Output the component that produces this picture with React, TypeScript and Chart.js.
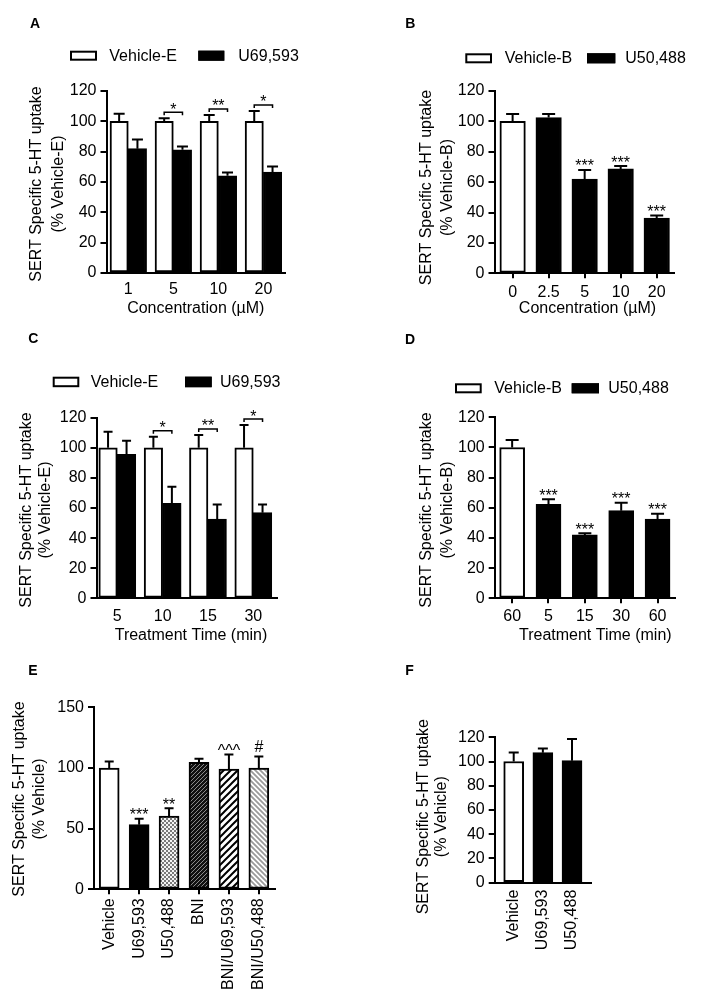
import React, { useEffect, useRef } from 'react';
import { Chart, registerables } from 'chart.js';

Chart.register(...registerables);

const FONT = '"Liberation Sans", Arial, Helvetica, sans-serif';
const PAGE_W = 704;
const PAGE_H = 1007;

// ---------- Panel A ----------
const catsA = ['1', '5', '10', '20'];
const vehicleEA = [100, 100, 100, 100];
const vehicleEAErr = [5, 2, 4.2, 6.8];
const u69593A = [82, 81.2, 64.1, 66.5];
const u69593AErr = [6, 2.2, 2.2, 3.7];
const sigA = ['', '*', '**', '*'];

// ---------- Panel B ----------
const catsB = ['0', '2.5', '5', '10', '20'];
const vehicleBB = [100, null, null, null, null];
const vehicleBBErr = [4.8, null, null, null, null];
const u50488B = [null, 102.5, 62.1, 68.7, 36.4];
const u50488BErr = [null, 2.4, 5.9, 1.9, 1.6];
const sigB = ['', '', '***', '***', '***'];

// ---------- Panel C ----------
const catsC = ['5', '10', '15', '30'];
const vehicleEC = [100, 100, 100, 100];
const vehicleECErr = [10.7, 7.4, 8.5, 15.1];
const u69593C = [95.6, 63.1, 52.7, 56.9];
const u69593CErr = [9.1, 11.1, 9.7, 5.5];
const sigC = ['', '*', '**', '*'];

// ---------- Panel D ----------
const catsD = ['60', '5', '15', '30', '60'];
const vehicleBD = [100, null, null, null, null];
const vehicleBDErr = [5, null, null, null, null];
const u50488D = [null, 62.3, 42, 58.1, 52.6];
const u50488DErr = [null, 3.4, 1.2, 5.2, 3.4];
const sigD = ['', '***', '***', '***', '***'];

// ---------- Panel E ----------
const catsE = ['Vehicle', 'U69,593', 'U50,488', 'BNI', 'BNI/U69,593', 'BNI/U50,488'];
const valuesE = [100, 53.3, 60.4, 104.6, 99, 100];
const errorsE = [5.3, 4.8, 6.5, 3, 12, 9.5];
const sigE = ['', '***', '**', '', '^^^', '#'];

// ---------- Panel F ----------
const catsF = ['Vehicle', 'U69,593', 'U50,488'];
const valuesF = [100, 107.3, 100.7];
const errorsF = [7.5, 3.5, 18];

type Pt = { x: number; y: number; e: number | null };

function toPoints(vals: (number | null)[], errs: (number | null)[]): Pt[] {
  const out: Pt[] = [];
  vals.forEach((v, i) => {
    if (v !== null && v !== undefined) out.push({ x: i, y: v, e: errs[i] ?? null });
  });
  return out;
}

interface Layout {
  axisX: number; right: number; top: number; bottom: number;
  xMin: number; xMax: number; yMax: number; yStep: number;
  yW: number; xH: number; rotate: boolean; xTickLen: number; xPad: number;
}

function drawGlyphAbove(ctx: CanvasRenderingContext2D, text: string, x: number, refY: number, gap: number) {
  ctx.font = `16px ${FONT}`;
  ctx.textAlign = 'center';
  ctx.textBaseline = 'alphabetic';
  const m = ctx.measureText(text);
  const desc = m.actualBoundingBoxDescent || 0;
  ctx.fillText(text, x, refY - gap - desc);
}

const annotPlugin = {
  id: 'annot',
  afterDraw(chart: any, _args: any, opts: any) {
    const ctx: CanvasRenderingContext2D = chart.ctx;
    const ys = chart.scales.y;
    ctx.save();
    ctx.fillStyle = '#000';
    ctx.strokeStyle = '#000';

    // error bars
    chart.data.datasets.forEach((ds: any, di: number) => {
      const meta = chart.getDatasetMeta(di);
      ds.data.forEach((p: Pt, j: number) => {
        const el = meta.data[j];
        if (!el || p.e === null || p.e === undefined) return;
        const top = ys.getPixelForValue(p.y);
        const cap = ys.getPixelForValue(p.y + p.e);
        const cw = opts.capW || 10;
        ctx.lineWidth = 2;
        ctx.beginPath();
        ctx.moveTo(el.x, top);
        ctx.lineTo(el.x, cap);
        ctx.moveTo(el.x - cw / 2, cap);
        ctx.lineTo(el.x + cw / 2, cap);
        ctx.stroke();
      });
    });

    // significance marks
    const findBars = (i: number) => {
      const res: { x: number; top: number }[] = [];
      chart.data.datasets.forEach((ds: any, di: number) => {
        const meta = chart.getDatasetMeta(di);
        ds.data.forEach((p: Pt, j: number) => {
          if (p.x === i && meta.data[j]) res.push({ x: meta.data[j].x, top: p.y + (p.e || 0) });
        });
      });
      return res;
    };
    (opts.sig || []).forEach((t: string, i: number) => {
      if (!t) return;
      const bars = findBars(i);
      if (!bars.length) return;
      const topVal = Math.max(...bars.map((b) => b.top));
      if (opts.bracket && bars.length >= 2) {
        const yb = ys.getPixelForValue(topVal + 4);
        const x0 = bars[0].x;
        const x1 = bars[1].x;
        ctx.lineWidth = 1.5;
        ctx.beginPath();
        ctx.moveTo(x0, yb + 3);
        ctx.lineTo(x0, yb);
        ctx.lineTo(x1, yb);
        ctx.lineTo(x1, yb + 3);
        ctx.stroke();
        drawGlyphAbove(ctx, t, (x0 + x1) / 2, yb, 3.5);
      } else {
        drawGlyphAbove(ctx, t, bars[0].x, ys.getPixelForValue(topVal), 4.5);
      }
    });

    // panel letter
    if (opts.letter) {
      ctx.font = `bold 14px ${FONT}`;
      ctx.textAlign = 'left';
      ctx.textBaseline = 'alphabetic';
      ctx.fillText(opts.letter.text, opts.letter.x, opts.letter.y);
    }

    // legend
    if (opts.legend) {
      const lg = opts.legend;
      ctx.font = `16px ${FONT}`;
      ctx.textAlign = 'left';
      ctx.textBaseline = 'middle';
      lg.items.forEach((it: any) => {
        ctx.fillStyle = it.fill;
        ctx.fillRect(it.x, lg.y, it.w, lg.h);
        ctx.strokeStyle = '#000';
        ctx.lineWidth = 2;
        ctx.strokeRect(it.x + 1, lg.y + 1, it.w - 2, lg.h - 2);
        ctx.fillStyle = '#000';
        ctx.fillText(it.label, it.tx, lg.y + lg.h / 2 + 0.5);
      });
    }

    // x title
    if (opts.xTitle) {
      ctx.font = `16px ${FONT}`;
      ctx.fillStyle = '#000';
      ctx.textAlign = 'center';
      ctx.textBaseline = 'middle';
      ctx.fillText(opts.xTitle.text, opts.xTitle.x, opts.xTitle.y);
    }

    // y title
    if (opts.yTitle) {
      ctx.font = `16px ${FONT}`;
      ctx.fillStyle = '#000';
      ctx.textAlign = 'center';
      ctx.textBaseline = 'middle';
      opts.yTitle.lines.forEach((line: string, k: number) => {
        ctx.save();
        ctx.translate(opts.yTitle.xs[k], opts.yTitle.y);
        ctx.rotate(-Math.PI / 2);
        ctx.fillText(line, 0, 0);
        ctx.restore();
      });
    }
    ctx.restore();
  },
};

function buildOptions(L: Layout, cats: string[], annot: any) {
  return {
    responsive: false,
    maintainAspectRatio: false,
    animation: false,
    devicePixelRatio: 1,
    events: [],
    layout: {
      padding: {
        left: L.axisX - L.yW,
        top: L.top,
        right: PAGE_W - L.right,
        bottom: PAGE_H - L.bottom - L.xH,
      },
    },
    plugins: {
      legend: { display: false },
      tooltip: { enabled: false },
      title: { display: false },
      annot,
    },
    scales: {
      x: {
        type: 'linear',
        min: L.xMin,
        max: L.xMax,
        bounds: 'data',
        offset: false,
        afterBuildTicks: (s: any) => {
          s.ticks = cats.map((_, i) => ({ value: i }));
        },
        afterFit: (s: any) => {
          s.height = L.xH;
        },
        ticks: {
          autoSkip: false,
          minRotation: L.rotate ? 90 : 0,
          maxRotation: L.rotate ? 90 : 0,
          padding: L.xPad,
          color: '#000',
          font: { family: FONT, size: 16 },
          callback: (v: number) => cats[Math.round(v)] ?? '',
        },
        grid: {
          display: L.xTickLen > 0,
          drawOnChartArea: false,
          drawTicks: L.xTickLen > 0,
          tickLength: L.xTickLen,
          offset: false,
          color: '#000',
          lineWidth: 2,
        },
        border: { display: true, color: '#000', width: 2 },
      },
      y: {
        type: 'linear',
        min: 0,
        max: L.yMax,
        afterFit: (s: any) => {
          s.width = L.yW;
        },
        ticks: { stepSize: L.yStep, padding: 4, color: '#000', font: { family: FONT, size: 16 } },
        grid: { display: true, drawOnChartArea: false, drawTicks: true, tickLength: 6, color: '#000', lineWidth: 2 },
        border: { display: true, color: '#000', width: 2 },
      },
    },
  };
}

function barDs(label: string, data: Pt[], color: any, thickness: number, grouped: boolean) {
  return {
    label,
    data,
    backgroundColor: color,
    borderColor: '#000',
    borderWidth: 2,
    borderSkipped: false,
    barThickness: thickness,
    grouped,
  };
}

function makePattern(size: number, draw: (c: CanvasRenderingContext2D, s: number) => void) {
  const cv = document.createElement('canvas');
  cv.width = size;
  cv.height = size;
  const c = cv.getContext('2d') as CanvasRenderingContext2D;
  draw(c, size);
  return c.createPattern(cv, 'repeat');
}

function diag(c: CanvasRenderingContext2D, s: number, bg: string, fg: string, lw: number, forward: boolean) {
  c.fillStyle = bg;
  c.fillRect(0, 0, s, s);
  c.strokeStyle = fg;
  c.lineWidth = lw;
  c.beginPath();
  if (forward) {
    c.moveTo(-1, 1); c.lineTo(1, -1);
    c.moveTo(0, s); c.lineTo(s, 0);
    c.moveTo(s - 1, s + 1); c.lineTo(s + 1, s - 1);
  } else {
    c.moveTo(-1, s - 1); c.lineTo(1, s + 1);
    c.moveTo(0, 0); c.lineTo(s, s);
    c.moveTo(s - 1, -1); c.lineTo(s + 1, 1);
  }
  c.stroke();
}

const configA = () => ({
  type: 'bar',
  data: {
    datasets: [
      barDs('Vehicle-E', toPoints(vehicleEA, vehicleEAErr), '#ffffff', 18.3, true),
      barDs('U69,593', toPoints(u69593A, u69593AErr), '#000000', 18.3, true),
    ],
  },
  options: buildOptions(
    { axisX: 106.5, right: 285, top: 91, bottom: 273, xMin: -0.484, xMax: 3.48, yMax: 120, yStep: 20, yW: 50, xH: 40, rotate: false, xTickLen: 0, xPad: 7.4 },
    catsA,
    {
      letter: { text: 'A', x: 30, y: 28.3 },
      legend: { y: 50.7, h: 10, items: [
        { x: 70, w: 27, fill: '#ffffff', label: 'Vehicle-E', tx: 109.3 },
        { x: 198.3, w: 26, fill: '#000000', label: 'U69,593', tx: 238.3 },
      ] },
      xTitle: { text: 'Concentration (µM)', x: 195.8, y: 309 },
      yTitle: { lines: ['SERT Specific 5-HT uptake', '(% Vehicle-E)'], xs: [37, 58.5], y: 184 },
      sig: sigA, bracket: true, capW: 11,
    },
  ),
  plugins: [annotPlugin],
});

const configB = () => ({
  type: 'bar',
  data: {
    datasets: [
      barDs('Vehicle-B', toPoints(vehicleBB, vehicleBBErr), '#ffffff', 25.5, false),
      barDs('U50,488', toPoints(u50488B, u50488BErr), '#000000', 25.5, false),
    ],
  },
  options: buildOptions(
    { axisX: 494.5, right: 674, top: 91, bottom: 273.3, xMin: -0.503, xMax: 4.48, yMax: 120, yStep: 20, yW: 50, xH: 40, rotate: false, xTickLen: 5, xPad: 5 },
    catsB,
    {
      letter: { text: 'B', x: 405.3, y: 27.5 },
      legend: { y: 53.3, h: 10, items: [
        { x: 465.3, w: 26.7, fill: '#ffffff', label: 'Vehicle-B', tx: 504.7 },
        { x: 587, w: 28.3, fill: '#000000', label: 'U50,488', tx: 625.3 },
      ] },
      xTitle: { text: 'Concentration (µM)', x: 587.5, y: 309 },
      yTitle: { lines: ['SERT Specific 5-HT uptake', '(% Vehicle-B)'], xs: [427, 448], y: 187.5 },
      sig: sigB, bracket: false, capW: 13,
    },
  ),
  plugins: [annotPlugin],
});

const configC = () => ({
  type: 'bar',
  data: {
    datasets: [
      barDs('Vehicle-E', toPoints(vehicleEC, vehicleECErr), '#ffffff', 18.5, true),
      barDs('U69,593', toPoints(u69593C, u69593CErr), '#000000', 18.5, true),
    ],
  },
  options: buildOptions(
    { axisX: 96.5, right: 277, top: 417.7, bottom: 598.3, xMin: -0.459, xMax: 3.523, yMax: 120, yStep: 20, yW: 50, xH: 40, rotate: false, xTickLen: 0, xPad: 8.8 },
    catsC,
    {
      letter: { text: 'C', x: 28.3, y: 343.3 },
      legend: { y: 376.7, h: 10.5, items: [
        { x: 52.7, w: 26.6, fill: '#ffffff', label: 'Vehicle-E', tx: 90.7 },
        { x: 185, w: 26.7, fill: '#000000', label: 'U69,593', tx: 220 },
      ] },
      xTitle: { text: 'Treatment Time (min)', x: 191, y: 635.5 },
      yTitle: { lines: ['SERT Specific 5-HT uptake', '(% Vehicle-E)'], xs: [26.7, 45.5], y: 510 },
      sig: sigC, bracket: true, capW: 9,
    },
  ),
  plugins: [annotPlugin],
});

const configD = () => ({
  type: 'bar',
  data: {
    datasets: [
      barDs('Vehicle-B', toPoints(vehicleBD, vehicleBDErr), '#ffffff', 25, false),
      barDs('U50,488', toPoints(u50488D, u50488DErr), '#000000', 25, false),
    ],
  },
  options: buildOptions(
    { axisX: 494.7, right: 675, top: 417.3, bottom: 598.3, xMin: -0.48, xMax: 4.48, yMax: 120, yStep: 20, yW: 50, xH: 40, rotate: false, xTickLen: 5, xPad: 3.8 },
    catsD,
    {
      letter: { text: 'D', x: 405, y: 344 },
      legend: { y: 383.3, h: 10, items: [
        { x: 455, w: 26.7, fill: '#ffffff', label: 'Vehicle-B', tx: 494.3 },
        { x: 571.7, w: 27.3, fill: '#000000', label: 'U50,488', tx: 608.3 },
      ] },
      xTitle: { text: 'Treatment Time (min)', x: 595.3, y: 635.5 },
      yTitle: { lines: ['SERT Specific 5-HT uptake', '(% Vehicle-B)'], xs: [427, 448], y: 510 },
      sig: sigD, bracket: false, capW: 13,
    },
  ),
  plugins: [annotPlugin],
});

const configE = () => {
  const checker = makePattern(4, (c) => {
    c.fillStyle = '#f4f4f4';
    c.fillRect(0, 0, 4, 4);
    c.fillStyle = '#7a7a7a';
    c.fillRect(0, 0, 2, 2);
    c.fillRect(2, 2, 2, 2);
  });
  const dark = makePattern(4, (c, s) => diag(c, s, '#111111', '#8a8a8a', 1, true));
  const blackHatch = makePattern(7, (c, s) => diag(c, s, '#ffffff', '#000000', 2, true));
  const grayHatch = makePattern(5, (c, s) => diag(c, s, '#ffffff', '#9a9a9a', 1.8, false));
  const colors = ['#ffffff', '#000000', checker, dark, blackHatch, grayHatch];
  return {
    type: 'bar',
    data: {
      datasets: [barDs('SERT uptake', toPoints(valuesE, errorsE), colors, 20, true)],
    },
    options: buildOptions(
      { axisX: 94, right: 275, top: 707.3, bottom: 889.3, xMin: -0.508, xMax: 5.54, yMax: 150, yStep: 50, yW: 50, xH: 110, rotate: true, xTickLen: 5, xPad: 4 },
      catsE,
      {
        letter: { text: 'E', x: 28.3, y: 675 },
        yTitle: { lines: ['SERT Specific 5-HT uptake', '(% Vehicle)'], xs: [20, 40], y: 799 },
        sig: sigE, bracket: false, capW: 9,
      },
    ),
    plugins: [annotPlugin],
  };
};

const configF = () => ({
  type: 'bar',
  data: {
    datasets: [barDs('SERT uptake', toPoints(valuesF, errorsF), ['#ffffff', '#000000', '#000000'], 20, true)],
  },
  options: buildOptions(
    { axisX: 494.7, right: 591.3, top: 737.3, bottom: 882.7, xMin: -0.652, xMax: 2.662, yMax: 120, yStep: 20, yW: 50, xH: 90, rotate: true, xTickLen: 0, xPad: 7 },
    catsF,
    {
      letter: { text: 'F', x: 405.3, y: 675 },
      yTitle: { lines: ['SERT Specific 5-HT uptake', '(% Vehicle)'], xs: [423.7, 442], y: 816.7 },
      sig: [], bracket: false, capW: 10,
    },
  ),
  plugins: [annotPlugin],
});

function Panel({ make }: { make: () => any }) {
  const ref = useRef<HTMLCanvasElement>(null);
  useEffect(() => {
    if (!ref.current) return;
    const chart = new Chart(ref.current, make());
    return () => chart.destroy();
  }, [make]);
  return (
    <canvas
      ref={ref}
      width={PAGE_W}
      height={PAGE_H}
      style={{ position: 'absolute', left: 0, top: 0, width: PAGE_W, height: PAGE_H }}
    />
  );
}

const makers = [configA, configB, configC, configD, configE, configF];

export default function App() {
  return (
    <div style={{ position: 'absolute', left: 0, top: 0, width: PAGE_W, height: PAGE_H, background: '#ffffff', overflow: 'hidden' }}>
      {makers.map((m, i) => (
        <Panel key={i} make={m} />
      ))}
    </div>
  );
}
